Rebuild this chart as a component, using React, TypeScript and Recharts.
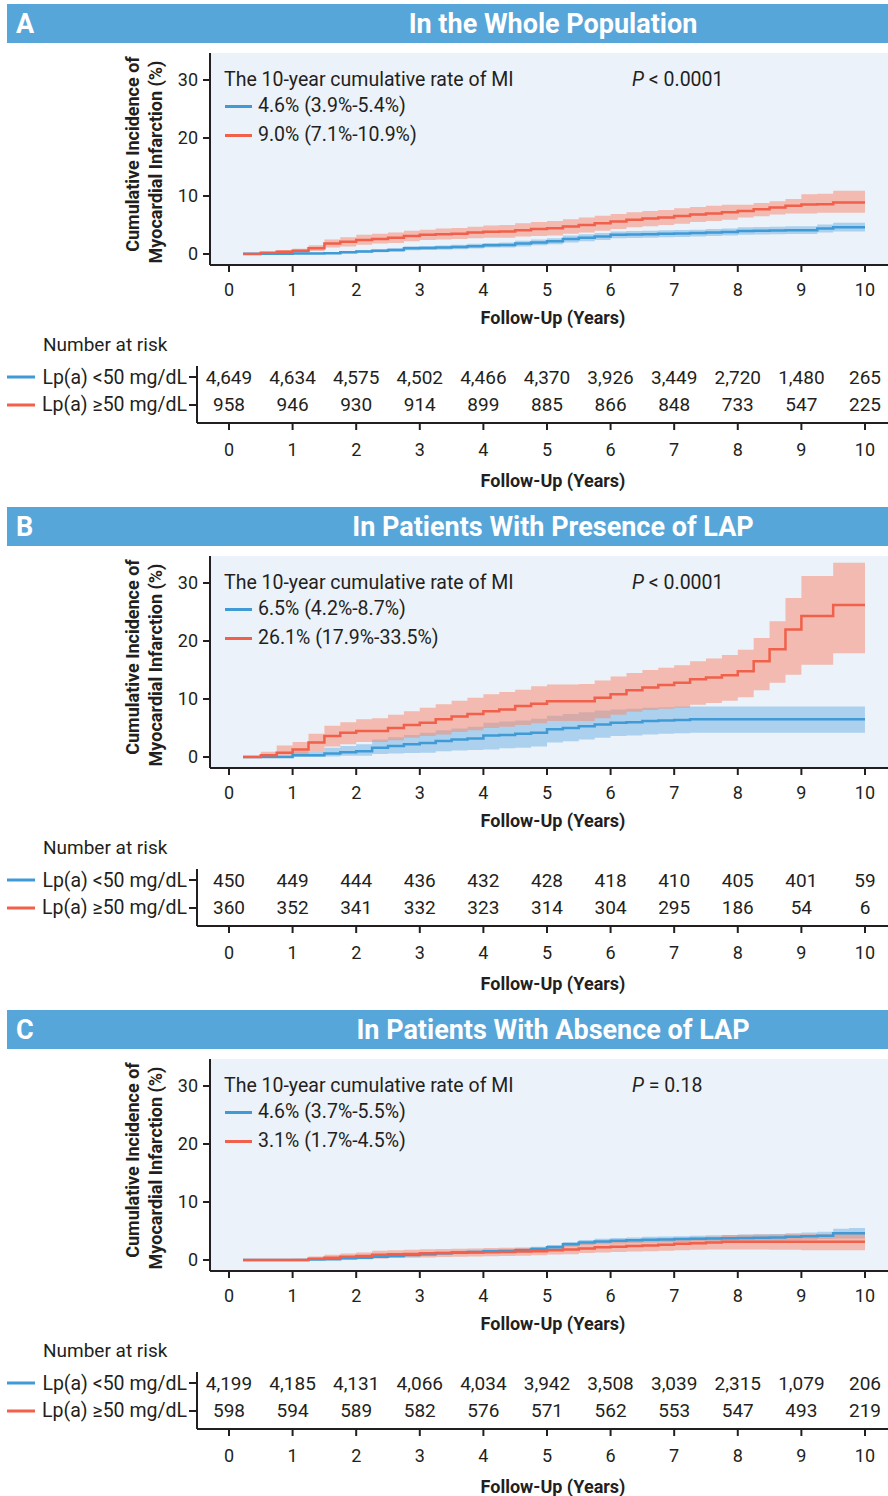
import { Area, CartesianGrid, ComposedChart, Line, Scatter, XAxis, YAxis } from 'recharts'

const FONT = 'Roboto, "Noto Sans", Arial, sans-serif'
const INK = '#231f20'
const BLUE = '#3f9ad6'
const RED = '#f0604a'
const BLUE_BAND = '#5fa8e0'
const RED_BAND = '#f78d72'
const HEADER = '#56a6da'
const PLOT_BG = '#ebf2fa'

const YEARS = [0, 1, 2, 3, 4, 5, 6, 7, 8, 9, 10]
const Y_TICKS = [0, 10, 20, 30]

// follow-up times where the curves are sampled (step after)
const TIMES = [
  0.22, 0.5, 0.75, 1, 1.25, 1.5, 1.75, 2, 2.25, 2.5,
  2.75, 3, 3.25, 3.5, 3.75, 4, 4.25, 4.5, 4.75, 5,
  5.25, 5.5, 5.75, 6, 6.25, 6.5, 6.75, 7, 7.25, 7.5,
  7.75, 8, 8.25, 8.5, 8.75, 9, 9.25, 9.5, 9.75, 10,
]

// A - whole population
const wholeLow = [
  0.05, 0.05, 0.05, 0.1, 0.1, 0.15, 0.3, 0.45, 0.55, 0.7,
  1.0, 1.05, 1.1, 1.2, 1.35, 1.5, 1.55, 1.8, 2.0, 2.2,
  2.6, 2.8, 3.0, 3.3, 3.35, 3.4, 3.5, 3.55, 3.6, 3.7,
  3.8, 3.95, 4.0, 4.05, 4.1, 4.1, 4.4, 4.6, 4.6, 4.6,
]
const wholeLowLo = [
  0, 0, 0, 0, 0, 0, 0.1, 0.2, 0.3, 0.4,
  0.65, 0.7, 0.75, 0.8, 0.95, 1.1, 1.1, 1.3, 1.5, 1.7,
  2.0, 2.2, 2.4, 2.7, 2.75, 2.8, 2.9, 2.95, 3.0, 3.1,
  3.2, 3.3, 3.35, 3.4, 3.45, 3.45, 3.7, 3.9, 3.9, 3.9,
]
const wholeLowHi = [
  0.15, 0.15, 0.15, 0.2, 0.25, 0.3, 0.5, 0.7, 0.8, 1.0,
  1.35, 1.4, 1.45, 1.6, 1.75, 1.9, 2.0, 2.3, 2.5, 2.7,
  3.2, 3.4, 3.6, 3.9, 3.95, 4.0, 4.1, 4.15, 4.2, 4.3,
  4.4, 4.6, 4.65, 4.7, 4.8, 4.8, 5.1, 5.4, 5.4, 5.4,
]
const wholeHigh = [
  0, 0.2, 0.4, 0.55, 1.0, 1.8, 2.1, 2.4, 2.6, 2.8,
  3.1, 3.3, 3.4, 3.5, 3.7, 3.85, 3.9, 4.1, 4.3, 4.45,
  4.75, 5.0, 5.3, 5.6, 5.9, 6.1, 6.3, 6.55, 6.8, 7.0,
  7.2, 7.4, 7.7, 8.0, 8.3, 8.55, 8.6, 8.9, 8.9, 8.9,
]
const wholeHighLo = [
  0, 0, 0.1, 0.2, 0.5, 1.1, 1.3, 1.6, 1.8, 1.9,
  2.2, 2.4, 2.5, 2.6, 2.7, 2.8, 2.8, 3.0, 3.1, 3.2,
  3.5, 3.7, 4.0, 4.3, 4.6, 4.8, 5.0, 5.2, 5.5, 5.7,
  5.9, 6.3, 6.5, 6.8, 7.0, 7.0, 7.1, 7.1, 7.1, 7.1,
]
const wholeHighHi = [
  0, 0.4, 0.7, 0.9, 1.5, 2.5, 2.9, 3.3, 3.5, 3.7,
  4.0, 4.2, 4.4, 4.5, 4.7, 4.9, 5.0, 5.3, 5.5, 5.7,
  6.0, 6.3, 6.6, 6.9, 7.2, 7.4, 7.6, 7.9, 8.1, 8.3,
  8.5, 8.5, 8.8, 9.1, 9.5, 10.3, 10.4, 10.9, 10.9, 10.9,
]
const wholeRiskLow = [4649, 4634, 4575, 4502, 4466, 4370, 3926, 3449, 2720, 1480, 265]
const wholeRiskHigh = [958, 946, 930, 914, 899, 885, 866, 848, 733, 547, 225]

// B - presence of LAP
const lapLow = [
  0, 0, 0, 0.3, 0.3, 0.6, 0.8, 1.0, 1.6, 1.9,
  2.2, 2.4, 2.75, 3.0, 3.2, 3.7, 3.8, 4.0, 4.2, 4.8,
  5.0, 5.3, 5.6, 5.9, 6.0, 6.2, 6.3, 6.4, 6.5, 6.5,
  6.5, 6.5, 6.5, 6.5, 6.5, 6.5, 6.5, 6.5, 6.5, 6.5,
]
const lapLowLo = [
  0, 0, 0, 0, 0, 0.1, 0.2, 0.2, 0.5, 0.6,
  0.7, 0.75, 1.0, 1.1, 1.2, 1.3, 1.5, 1.6, 1.8, 2.5,
  2.7, 3.0, 3.3, 3.6, 3.7, 3.9, 4.0, 4.1, 4.2, 4.2,
  4.2, 4.2, 4.2, 4.2, 4.2, 4.2, 4.2, 4.2, 4.2, 4.2,
]
const lapLowHi = [
  0, 0, 0, 1.0, 1.0, 1.6, 1.9, 2.2, 3.0, 3.4,
  3.8, 4.2, 4.6, 4.9, 5.2, 5.9, 6.1, 6.3, 6.6, 7.1,
  7.4, 7.7, 8.0, 8.2, 8.3, 8.5, 8.6, 8.7, 8.7, 8.7,
  8.7, 8.7, 8.7, 8.7, 8.7, 8.7, 8.7, 8.7, 8.7, 8.7,
]
const lapHigh = [
  0, 0.3, 0.75, 1.3, 2.5, 3.6, 4.2, 4.5, 4.5, 5.0,
  5.5, 5.9, 6.5, 7.0, 7.4, 7.9, 8.2, 8.8, 9.2, 9.6,
  9.6, 9.6, 10.2, 10.8, 11.5, 12.0, 12.4, 12.8, 13.4, 13.7,
  14.1, 14.8, 16.5, 18.6, 22.0, 24.3, 24.3, 26.2, 26.2, 26.2,
]
const lapHighLo = [
  0, 0, 0, 0.2, 1.0, 1.8, 2.2, 2.6, 2.6, 2.9,
  3.3, 3.6, 3.9, 4.3, 4.6, 5.0, 5.2, 5.5, 5.8, 6.2,
  6.2, 6.2, 6.7, 7.3, 7.8, 8.1, 8.3, 8.5, 9.0, 9.3,
  9.7, 10.3, 11.5, 12.8, 14.2, 15.9, 15.9, 17.9, 17.9, 17.9,
]
const lapHighHi = [
  0, 0.9, 2.0, 2.6, 4.0, 5.4, 6.0, 6.5, 6.7, 7.3,
  7.9, 8.5, 9.1, 9.7, 10.2, 10.8, 11.2, 11.6, 12.2, 12.5,
  12.5, 12.6, 13.2, 13.9, 14.5, 15.0, 15.4, 15.8, 16.5, 17.0,
  17.6, 18.5, 20.5, 23.4, 27.4, 31.2, 31.2, 33.5, 33.5, 33.5,
]
const lapRiskLow = [450, 449, 444, 436, 432, 428, 418, 410, 405, 401, 59]
const lapRiskHigh = [360, 352, 341, 332, 323, 314, 304, 295, 186, 54, 6]

// C - absence of LAP
const noLapLow = [
  0, 0, 0, 0, 0.1, 0.15, 0.3, 0.4, 0.55, 0.7,
  0.85, 1.0, 1.15, 1.3, 1.4, 1.5, 1.55, 1.7, 1.9, 2.2,
  2.7, 3.0, 3.2, 3.3, 3.4, 3.5, 3.55, 3.6, 3.65, 3.7,
  3.75, 3.8, 3.85, 3.9, 4.0, 4.1, 4.2, 4.6, 4.6, 4.6,
]
const noLapLowLo = [
  0, 0, 0, 0, 0, 0.05, 0.15, 0.2, 0.3, 0.45,
  0.6, 0.7, 0.85, 1.0, 1.1, 1.2, 1.25, 1.4, 1.55, 1.8,
  2.3, 2.6, 2.8, 2.85, 2.95, 3.0, 3.05, 3.1, 3.15, 3.2,
  3.25, 3.3, 3.3, 3.35, 3.4, 3.5, 3.6, 3.7, 3.7, 3.7,
]
const noLapLowHi = [
  0.05, 0.05, 0.05, 0.1, 0.25, 0.3, 0.5, 0.6, 0.8, 0.95,
  1.1, 1.3, 1.45, 1.6, 1.7, 1.8, 1.9, 2.05, 2.3, 2.6,
  3.1, 3.45, 3.65, 3.8, 3.9, 4.0, 4.05, 4.1, 4.2, 4.25,
  4.3, 4.4, 4.45, 4.5, 4.6, 4.75, 4.85, 5.4, 5.5, 5.5,
]
const noLapHigh = [
  0, 0, 0, 0, 0.2, 0.4, 0.55, 0.7, 0.9, 1.0,
  1.05, 1.15, 1.2, 1.25, 1.3, 1.35, 1.4, 1.45, 1.5, 1.7,
  1.8, 2.0, 2.2, 2.3, 2.4, 2.5, 2.65, 2.8, 2.9, 3.0,
  3.15, 3.15, 3.15, 3.15, 3.15, 3.15, 3.15, 3.15, 3.15, 3.15,
]
const noLapHighLo = [
  0, 0, 0, 0, 0, 0, 0.05, 0.15, 0.25, 0.35,
  0.4, 0.45, 0.5, 0.55, 0.6, 0.65, 0.7, 0.75, 0.8, 0.95,
  1.0, 1.2, 1.3, 1.4, 1.45, 1.5, 1.6, 1.7, 1.75, 1.8,
  1.8, 1.8, 1.8, 1.75, 1.75, 1.7, 1.7, 1.7, 1.7, 1.7,
]
const noLapHighHi = [
  0, 0.05, 0.1, 0.2, 0.6, 0.9, 1.1, 1.3, 1.6, 1.7,
  1.75, 1.85, 1.9, 1.95, 2.0, 2.05, 2.1, 2.15, 2.2, 2.5,
  2.6, 2.8, 3.1, 3.2, 3.35, 3.5, 3.65, 3.8, 3.9, 4.0,
  4.3, 4.35, 4.4, 4.4, 4.45, 4.45, 4.5, 4.5, 4.5, 4.5,
]
const noLapRiskLow = [4199, 4185, 4131, 4066, 4034, 3942, 3508, 3039, 2315, 1079, 206]
const noLapRiskHigh = [598, 594, 589, 582, 576, 571, 562, 553, 547, 493, 219]

const GROUP_LABELS = ['Lp(a) ≥50 mg/dL', 'Lp(a) <50 mg/dL']

type Series = { val: number[]; lo: number[]; hi: number[] }
type PanelSpec = {
  letter: string
  title: string
  low: Series
  high: Series
  lowText: string
  highText: string
  pLabel: string
  riskLow: number[]
  riskHigh: number[]
}

const PANELS: PanelSpec[] = [
  {
    letter: 'A',
    title: 'In the Whole Population',
    low: { val: wholeLow, lo: wholeLowLo, hi: wholeLowHi },
    high: { val: wholeHigh, lo: wholeHighLo, hi: wholeHighHi },
    lowText: '4.6% (3.9%-5.4%)',
    highText: '9.0% (7.1%-10.9%)',
    pLabel: '< 0.0001',
    riskLow: wholeRiskLow,
    riskHigh: wholeRiskHigh,
  },
  {
    letter: 'B',
    title: 'In Patients With Presence of LAP',
    low: { val: lapLow, lo: lapLowLo, hi: lapLowHi },
    high: { val: lapHigh, lo: lapHighLo, hi: lapHighHi },
    lowText: '6.5% (4.2%-8.7%)',
    highText: '26.1% (17.9%-33.5%)',
    pLabel: '< 0.0001',
    riskLow: lapRiskLow,
    riskHigh: lapRiskHigh,
  },
  {
    letter: 'C',
    title: 'In Patients With Absence of LAP',
    low: { val: noLapLow, lo: noLapLowLo, hi: noLapLowHi },
    high: { val: noLapHigh, lo: noLapHighLo, hi: noLapHighHi },
    lowText: '4.6% (3.7%-5.5%)',
    highText: '3.1% (1.7%-4.5%)',
    pLabel: '= 0.18',
    riskLow: noLapRiskLow,
    riskHigh: noLapRiskHigh,
  },
]

const axisStroke = { stroke: INK, strokeWidth: 2 }

const xLabel = (y: number) => () => (
  <text x={553} y={y} textAnchor="middle" dominantBaseline="central" fontSize={18} fontWeight={700} fill={INK}>
    Follow-Up (Years)
  </text>
)

const yLabel = () => (
  <g fontSize={18} fontWeight={700} fill={INK}>
    <text transform="rotate(-90)" x={-154} y={132} textAnchor="middle" dominantBaseline="central">
      Cumulative Incidence of
    </text>
    <text transform="rotate(-90)" x={-162} y={155} textAnchor="middle" dominantBaseline="central">
      Myocardial Infarction (%)
    </text>
  </g>
)

function KmChart({ spec }: { spec: PanelSpec }) {
  const rows = TIMES.map((t, i) => ({
    t,
    low: spec.low.val[i],
    lowBand: [spec.low.lo[i], spec.low.hi[i]],
    high: spec.high.val[i],
    highBand: [spec.high.lo[i], spec.high.hi[i]],
  }))
  return (
    <ComposedChart width={888} height={330} data={rows} margin={{ top: 53, right: 0, bottom: 0, left: 150 }}>
      <CartesianGrid horizontal={false} vertical={false} fill={PLOT_BG} stroke="none" />
      <XAxis
        type="number"
        dataKey="t"
        domain={[-0.299, 10.362]}
        ticks={YEARS}
        allowDataOverflow
        height={65}
        tickSize={7}
        tickMargin={11}
        axisLine={axisStroke}
        tickLine={axisStroke}
        tick={{ fontSize: 18, fill: INK }}
        label={{ content: xLabel(317) }}
      />
      <YAxis
        type="number"
        domain={[-1.897, 34.66]}
        ticks={Y_TICKS}
        allowDataOverflow
        width={60}
        tickSize={7}
        tickMargin={5}
        axisLine={axisStroke}
        tickLine={axisStroke}
        tick={{ fontSize: 18, fill: INK }}
        label={{ content: yLabel }}
      />
      <Area dataKey="lowBand" type="stepAfter" stroke="none" fill={BLUE_BAND} fillOpacity={0.45} isAnimationActive={false} activeDot={false} />
      <Line dataKey="low" type="stepAfter" stroke={BLUE} strokeWidth={2.5} dot={false} activeDot={false} isAnimationActive={false} />
      <Area dataKey="highBand" type="stepAfter" stroke="none" fill={RED_BAND} fillOpacity={0.55} isAnimationActive={false} activeDot={false} />
      <Line dataKey="high" type="stepAfter" stroke={RED} strokeWidth={2.5} dot={false} activeDot={false} isAnimationActive={false} />
    </ComposedChart>
  )
}

function RiskTick(props: any) {
  const { x, y, payload } = props
  const isLow = payload.value === 1
  return (
    <g>
      <line x1={7} x2={35} y1={y} y2={y} stroke={isLow ? BLUE : RED} strokeWidth={3} />
      <text x={x} y={y} textAnchor="end" dominantBaseline="central" fontSize={19.5} fill={INK}>
        {GROUP_LABELS[payload.value]}
      </text>
    </g>
  )
}

const riskCell = (props: any) => (
  <text x={props.cx} y={props.cy} textAnchor="middle" dominantBaseline="central" fontSize={19} fill={INK}>
    {props.payload.n.toLocaleString('en-US')}
  </text>
)

function RiskTable({ spec }: { spec: PanelSpec }) {
  const lowRow = YEARS.map((t, i) => ({ t, row: 1, n: spec.riskLow[i] }))
  const highRow = YEARS.map((t, i) => ({ t, row: 0, n: spec.riskHigh[i] }))
  return (
    <ComposedChart width={888} height={160} margin={{ top: 26, right: 0, bottom: 0, left: 0 }}>
      <XAxis
        type="number"
        dataKey="t"
        domain={[-0.503, 10.362]}
        ticks={YEARS}
        allowDataOverflow
        height={77}
        tickSize={7}
        tickMargin={13}
        axisLine={axisStroke}
        tickLine={axisStroke}
        tick={{ fontSize: 18, fill: INK }}
        label={{ content: xLabel(140) }}
      />
      <YAxis
        type="number"
        dataKey="row"
        domain={[-0.643, 1.393]}
        ticks={[0, 1]}
        width={197}
        tickSize={8}
        tickMargin={2}
        axisLine={axisStroke}
        tickLine={axisStroke}
        tick={RiskTick}
      />
      <Scatter data={lowRow} dataKey="row" shape={riskCell} isAnimationActive={false} />
      <Scatter data={highRow} dataKey="row" shape={riskCell} isAnimationActive={false} />
    </ComposedChart>
  )
}

const textRow = (left: number, centerY: number, extra?: React.CSSProperties): React.CSSProperties => ({
  position: 'absolute',
  left,
  top: centerY - 11,
  lineHeight: '22px',
  fontSize: 19.5,
  color: INK,
  whiteSpace: 'nowrap',
  ...extra,
})

function Panel({ spec, top }: { spec: PanelSpec; top: number }) {
  return (
    <div style={{ position: 'absolute', left: 0, top, width: 888, height: 503 }}>
      <svg width={881} height={39} style={{ position: 'absolute', left: 7, top: 4 }}>
        <rect width={881} height={39} fill={HEADER} />
        <text x={9} y={20} dominantBaseline="central" fontSize={27} fontWeight={700} fill="#fff">
          {spec.letter}
        </text>
        <text x={546} y={20} textAnchor="middle" dominantBaseline="central" fontSize={27} fontWeight={700} fill="#fff">
          {spec.title}
        </text>
      </svg>

      <div style={{ position: 'absolute', left: 0, top: 0 }}>
        <KmChart spec={spec} />
      </div>

      <div style={textRow(224, 80)}>The 10-year cumulative rate of MI</div>
      <div style={{ position: 'absolute', left: 225, top: 105, width: 27, height: 3, background: BLUE }} />
      <div style={textRow(258, 106)}>{spec.lowText}</div>
      <div style={{ position: 'absolute', left: 225, top: 134, width: 27, height: 3, background: RED }} />
      <div style={textRow(258, 135)}>{spec.highText}</div>
      <div style={textRow(632, 80)}>
        <i>P</i> {spec.pLabel}
      </div>

      <div style={textRow(43, 345, { fontSize: 19 })}>Number at risk</div>
      <div style={{ position: 'absolute', left: 0, top: 340 }}>
        <RiskTable spec={spec} />
      </div>
    </div>
  )
}

export default function App() {
  return (
    <div style={{ position: 'relative', width: 888, height: 1496, background: '#fff', fontFamily: FONT }}>
      <style>{'body{margin:0}'}</style>
      {PANELS.map((spec, i) => (
        <Panel key={spec.letter} spec={spec} top={i * 503} />
      ))}
    </div>
  )
}
